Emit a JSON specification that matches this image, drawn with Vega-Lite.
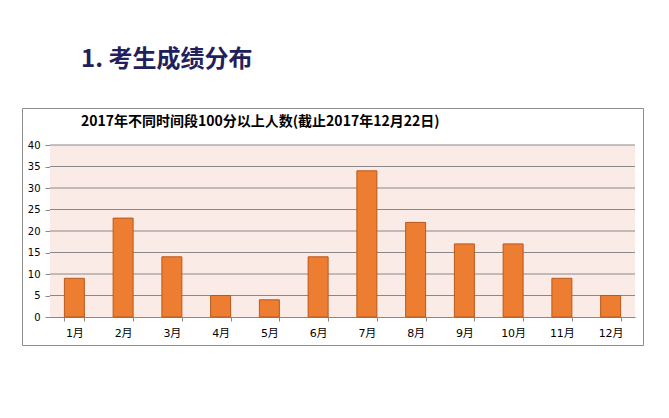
{
  "$schema": "https://vega.github.io/schema/vega-lite/v6.json",
  "width": 621,
  "height": 237,
  "autosize": {"type": "none"},
  "padding": {"left": 22, "top": 108, "right": 26, "bottom": 73},
  "background": "white",
  "title": {
    "text": "1. 考生成绩分布",
    "subtitle": "2017年不同时间段100分以上人数(截止2017年12月22日)",
    "anchor": "start",
    "frame": "group",
    "orient": "top",
    "dx": 59,
    "offset": -21,
    "font": "Noto Sans CJK SC",
    "fontSize": 24,
    "fontWeight": "bold",
    "color": "#221f5c",
    "subtitleFont": "Noto Sans CJK SC",
    "subtitleFontSize": 14,
    "subtitleFontWeight": "bold",
    "subtitleColor": "#000000",
    "subtitlePadding": 43
  },
  "config": {
    "view": {"stroke": "#8c8c8c", "strokeWidth": 1, "fill": "white"},
    "axisY": {
      "title": null,
      "offset": -28,
      "values": [0, 5, 10, 15, 20, 25, 30, 35, 40],
      "grid": false,
      "tickSize": 5,
      "tickColor": "#888888",
      "domainColor": "#888888",
      "labelFont": "DejaVu Sans",
      "labelFontSize": 10,
      "labelColor": "#000000",
      "labelPadding": 5
    }
  },
  "resolve": {"scale": {"x": "independent"}, "axis": {"x": "independent"}},
  "layer": [
    {
      "layer": [
        {
          "data": {"values": [{}]},
          "mark": {"type": "rect", "fill": "#fbebe6"},
          "encoding": {
            "x": {"datum": 0, "type": "quantitative", "scale": {"domain": [0, 1], "range": [28, 613]}, "axis": null},
            "x2": {"datum": 1},
            "y": {"datum": 0, "type": "quantitative", "title": null},
            "y2": {"datum": 40}
          }
        },
        {
          "data": {"values": [{"g": 5}, {"g": 10}, {"g": 15}, {"g": 20}, {"g": 25}, {"g": 30}, {"g": 35}, {"g": 40}]},
          "mark": {"type": "rule", "color": "#888888", "strokeWidth": 1},
          "encoding": {
            "x": {"datum": 0, "type": "quantitative", "axis": null},
            "x2": {"datum": 1},
            "y": {"field": "g", "type": "quantitative", "title": null}
          }
        }
      ]
    },
    {
      "data": {
        "values": [
          {"month": "1月", "value": 9},
          {"month": "2月", "value": 23},
          {"month": "3月", "value": 14},
          {"month": "4月", "value": 5},
          {"month": "5月", "value": 4},
          {"month": "6月", "value": 14},
          {"month": "7月", "value": 34},
          {"month": "8月", "value": 22},
          {"month": "9月", "value": 17},
          {"month": "10月", "value": 17},
          {"month": "11月", "value": 9},
          {"month": "12月", "value": 5}
        ]
      },
      "mark": {"type": "bar", "fill": "#ed7d31", "stroke": "#b9581b", "strokeWidth": 1},
      "encoding": {
        "x": {
          "field": "month",
          "type": "nominal",
          "sort": null,
          "scale": {"range": [28, 613], "paddingInner": 0.59, "paddingOuter": 0.295},
          "axis": {
            "title": null,
            "offset": -28,
            "labelAngle": 0,
            "tickBand": "extent",
            "tickSize": 4,
            "tickColor": "#888888",
            "domainColor": "#888888",
            "labelFont": "DejaVu Sans, Noto Sans CJK SC",
            "labelFontSize": 11,
            "labelColor": "#000000",
            "labelPadding": 6
          }
        },
        "y": {
          "field": "value",
          "type": "quantitative",
          "title": null,
          "scale": {"domain": [0, 40], "range": [209, 37], "nice": false}
        }
      }
    }
  ]
}
